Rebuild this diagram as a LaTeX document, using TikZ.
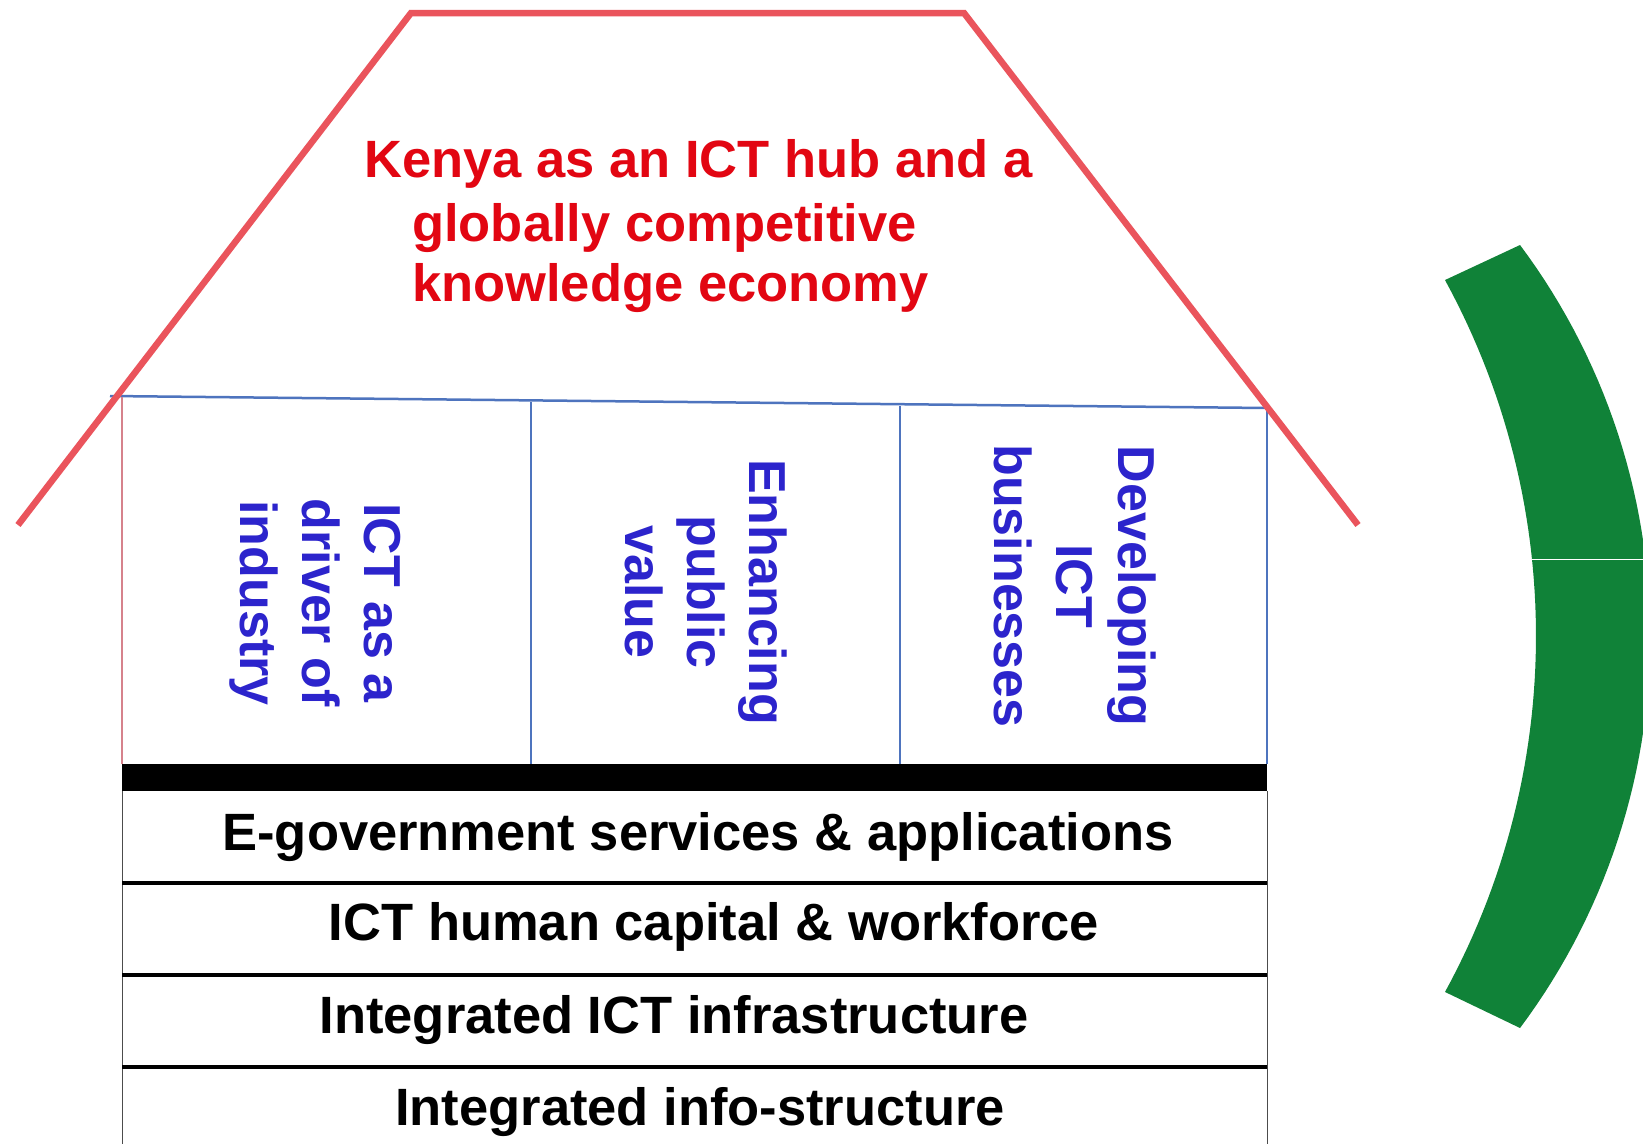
\documentclass[tikz,border=0pt]{standalone}
\usepackage{fontspec}
\setmainfont{Liberation Sans}
\usepackage{tikz}

\definecolor{roofred}{RGB}{234,84,92}
\definecolor{goalred}{RGB}{226,6,18}
\definecolor{pillarblue}{RGB}{78,116,190}
\definecolor{pillartext}{RGB}{44,36,204}
\definecolor{wallpink}{RGB}{214,130,140}
\definecolor{arcgreen}{RGB}{16,130,56}

\begin{document}
\begin{tikzpicture}[x=1pt,y=-1pt,
    roof/.style={roofred,line width=6.5pt},
    beam/.style={pillarblue,line width=2.5pt},
    wall/.style={pillarblue,line width=2pt},
    goal/.style={goalred,font=\fontsize{52.5}{60}\selectfont\bfseries,inner sep=0pt,anchor=base west},
    pillartxt/.style={pillartext,font=\fontsize{52}{62}\selectfont\bfseries,align=center,rotate=-90,inner sep=0pt},
    layertxt/.style={font=\fontsize{52.5}{60}\selectfont\bfseries,inner sep=0pt,anchor=base}]

        % Page
        \clip (0,0) rectangle (1643,1144);
        \fill[white] (0,0) rectangle (1643,1144);

        % Green arc on the right
        \fill[arcgreen] plot[domain=-28.67:28.67,samples=60] ({794+742*cos(\x)},{636+742*sin(\x)})
            -- plot[domain=36.78:-36.78,samples=60] ({996.3+653.9*cos(\x)},{636.5+653.9*sin(\x)}) -- cycle;
        \draw[white,line width=1pt] (1532,559) -- (1643,559);

        % Layers
        \fill[black] (122,764) rectangle (1267,791);
        \draw[black!70,line width=1pt] (122,791) -- (122,1144);
        \draw[black!70,line width=1pt] (1267,791) -- (1267,1144);
        \draw[black,line width=3.5pt] (122,883) -- (1267,883);
        \draw[black,line width=3.5pt] (122,975) -- (1267,975);
        \draw[black,line width=3.5pt] (122,1067) -- (1267,1067);

        \node[layertxt] (egov) at (698,850) {E-government services \& applications};
        \node[layertxt] (human) at (714,940) {ICT human capital \& workforce};
        \node[layertxt] (infra) at (674,1033) {Integrated ICT infrastructure};
        \node[layertxt] (info) at (700,1125) {Integrated info-structure};

        % Pillars
        \draw[beam] (110,396) -- (1267,408);
        \draw[wallpink,line width=2.5pt] (122,397) -- (122,764);
        \draw[wall] (531,402) -- (531,764);
        \draw[wall] (900,406) -- (900,764);
        \draw[wall] (1267,408) -- (1267,764);

        \node[pillartxt] (industry) at (315,603) {ICT as a\\driver of\\industry};
        \node[pillartxt] (public) at (706,592) {Enhancing\\public\\value};
        \node[pillartxt] (business) at (1075,586) {Developing\\ICT\\businesses};

        % Roof and goal
        \draw[roof] (18,525) -- (411,13) -- (964,13) -- (1358,525);

        \node[goal] (goal1) at (364,177) {Kenya as an ICT hub and a};
        \node[goal] (goal2) at (412,241) {globally competitive};
        \node[goal] (goal3) at (412,301) {knowledge economy};

    \end{tikzpicture}
\end{document}
